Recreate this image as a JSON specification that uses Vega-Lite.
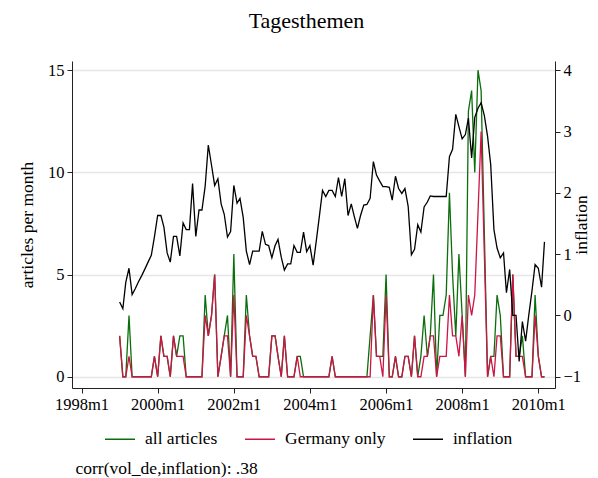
{
  "$schema": "https://vega.github.io/schema/vega-lite/v6.json",
  "width": 483,
  "height": 327,
  "autosize": {"type": "none"},
  "padding": {"left": 72, "top": 61, "right": 43, "bottom": 90},
  "background": "white",
  "config": {
    "font": "Liberation Serif",
    "view": {"stroke": null},
    "axis": {
      "labelFont": "Liberation Serif",
      "titleFont": "Liberation Serif",
      "labelFontSize": 16.5,
      "titleFontSize": 17.5,
      "titleFontWeight": "normal",
      "labelColor": "black",
      "titleColor": "black",
      "domainColor": "#222222",
      "tickColor": "#222222",
      "tickSize": 5,
      "labelPadding": 3
    },
    "legend": {
      "labelFont": "Liberation Serif",
      "labelFontSize": 17.5,
      "labelColor": "black"
    }
  },
  "title": {
    "text": "Tagesthemen",
    "font": "Liberation Serif",
    "fontSize": 22,
    "fontWeight": "normal",
    "color": "black",
    "anchor": "middle",
    "offset": 28,
    "dx": -7
  },
  "data": {
    "values": [
      {"date": "1999-01-01", "all": 2, "de": 2, "infl": 0.22},
      {"date": "1999-02-01", "all": 0, "de": 0, "infl": 0.11},
      {"date": "1999-03-01", "all": 0, "de": 0, "infl": 0.54},
      {"date": "1999-04-01", "all": 3, "de": 1, "infl": 0.77},
      {"date": "1999-05-01", "all": 0, "de": 0, "infl": 0.34},
      {"date": "1999-06-01", "all": 0, "de": 0, "infl": 0.44},
      {"date": "1999-07-01", "all": 0, "de": 0, "infl": 0.55},
      {"date": "1999-08-01", "all": 0, "de": 0, "infl": 0.65},
      {"date": "1999-09-01", "all": 0, "de": 0, "infl": 0.76},
      {"date": "1999-10-01", "all": 0, "de": 0, "infl": 0.87},
      {"date": "1999-11-01", "all": 0, "de": 0, "infl": 0.98},
      {"date": "1999-12-01", "all": 1, "de": 1, "infl": 1.28},
      {"date": "2000-01-01", "all": 0, "de": 0, "infl": 1.63},
      {"date": "2000-02-01", "all": 2, "de": 2, "infl": 1.63},
      {"date": "2000-03-01", "all": 1, "de": 1, "infl": 1.44},
      {"date": "2000-04-01", "all": 1, "de": 1, "infl": 1.02},
      {"date": "2000-05-01", "all": 0, "de": 0, "infl": 0.87},
      {"date": "2000-06-01", "all": 2, "de": 2, "infl": 1.29},
      {"date": "2000-07-01", "all": 1, "de": 1, "infl": 1.29},
      {"date": "2000-08-01", "all": 2, "de": 1, "infl": 0.97},
      {"date": "2000-09-01", "all": 2, "de": 1, "infl": 1.51},
      {"date": "2000-10-01", "all": 0, "de": 0, "infl": 1.40},
      {"date": "2000-11-01", "all": 0, "de": 0, "infl": 1.40},
      {"date": "2000-12-01", "all": 0, "de": 0, "infl": 2.15},
      {"date": "2001-01-01", "all": 0, "de": 0, "infl": 1.29},
      {"date": "2001-02-01", "all": 0, "de": 0, "infl": 1.72},
      {"date": "2001-03-01", "all": 0, "de": 0, "infl": 1.72},
      {"date": "2001-04-01", "all": 4, "de": 3, "infl": 2.11},
      {"date": "2001-05-01", "all": 2, "de": 2, "infl": 2.78},
      {"date": "2001-06-01", "all": 3, "de": 3, "infl": 2.45},
      {"date": "2001-07-01", "all": 5, "de": 5, "infl": 2.12},
      {"date": "2001-08-01", "all": 0, "de": 0, "infl": 2.23},
      {"date": "2001-09-01", "all": 1, "de": 1, "infl": 1.82},
      {"date": "2001-10-01", "all": 2, "de": 2, "infl": 1.65},
      {"date": "2001-11-01", "all": 3, "de": 2, "infl": 1.28},
      {"date": "2001-12-01", "all": 0, "de": 0, "infl": 1.37},
      {"date": "2002-01-01", "all": 6, "de": 4, "infl": 2.12},
      {"date": "2002-02-01", "all": 0, "de": 0, "infl": 1.83},
      {"date": "2002-03-01", "all": 0, "de": 0, "infl": 1.91},
      {"date": "2002-04-01", "all": 0, "de": 0, "infl": 1.60},
      {"date": "2002-05-01", "all": 4, "de": 3, "infl": 1.05},
      {"date": "2002-06-01", "all": 2, "de": 2, "infl": 0.83},
      {"date": "2002-07-01", "all": 1, "de": 1, "infl": 1.05},
      {"date": "2002-08-01", "all": 1, "de": 1, "infl": 1.05},
      {"date": "2002-09-01", "all": 0, "de": 0, "infl": 1.05},
      {"date": "2002-10-01", "all": 0, "de": 0, "infl": 1.37},
      {"date": "2002-11-01", "all": 0, "de": 0, "infl": 1.16},
      {"date": "2002-12-01", "all": 0, "de": 0, "infl": 1.14},
      {"date": "2003-01-01", "all": 2, "de": 2, "infl": 0.94},
      {"date": "2003-02-01", "all": 2, "de": 2, "infl": 1.14},
      {"date": "2003-03-01", "all": 1, "de": 1, "infl": 1.24},
      {"date": "2003-04-01", "all": 0, "de": 0, "infl": 0.95},
      {"date": "2003-05-01", "all": 2, "de": 2, "infl": 0.74},
      {"date": "2003-06-01", "all": 0, "de": 0, "infl": 0.84},
      {"date": "2003-07-01", "all": 0, "de": 0, "infl": 0.84},
      {"date": "2003-08-01", "all": 0, "de": 0, "infl": 1.14},
      {"date": "2003-09-01", "all": 1, "de": 1, "infl": 1.03},
      {"date": "2003-10-01", "all": 1, "de": 0, "infl": 1.03},
      {"date": "2003-11-01", "all": 0, "de": 0, "infl": 1.36},
      {"date": "2003-12-01", "all": 0, "de": 0, "infl": 1.04},
      {"date": "2004-01-01", "all": 0, "de": 0, "infl": 1.14},
      {"date": "2004-02-01", "all": 0, "de": 0, "infl": 0.82},
      {"date": "2004-03-01", "all": 0, "de": 0, "infl": 1.20},
      {"date": "2004-04-01", "all": 0, "de": 0, "infl": 1.62},
      {"date": "2004-05-01", "all": 0, "de": 0, "infl": 2.04},
      {"date": "2004-06-01", "all": 0, "de": 0, "infl": 1.94},
      {"date": "2004-07-01", "all": 0, "de": 0, "infl": 2.04},
      {"date": "2004-08-01", "all": 1, "de": 1, "infl": 2.04},
      {"date": "2004-09-01", "all": 0, "de": 0, "infl": 1.94},
      {"date": "2004-10-01", "all": 0, "de": 0, "infl": 2.25},
      {"date": "2004-11-01", "all": 0, "de": 0, "infl": 1.94},
      {"date": "2004-12-01", "all": 0, "de": 0, "infl": 2.23},
      {"date": "2005-01-01", "all": 0, "de": 0, "infl": 1.63},
      {"date": "2005-02-01", "all": 0, "de": 0, "infl": 1.82},
      {"date": "2005-03-01", "all": 0, "de": 0, "infl": 1.62},
      {"date": "2005-04-01", "all": 0, "de": 0, "infl": 1.42},
      {"date": "2005-05-01", "all": 0, "de": 0, "infl": 1.63},
      {"date": "2005-06-01", "all": 0, "de": 0, "infl": 1.80},
      {"date": "2005-07-01", "all": 0, "de": 0, "infl": 1.81},
      {"date": "2005-08-01", "all": 2, "de": 0, "infl": 1.91},
      {"date": "2005-09-01", "all": 4, "de": 4, "infl": 2.51},
      {"date": "2005-10-01", "all": 1, "de": 1, "infl": 2.29},
      {"date": "2005-11-01", "all": 1, "de": 1, "infl": 2.19},
      {"date": "2005-12-01", "all": 1, "de": 0, "infl": 2.10},
      {"date": "2006-01-01", "all": 5, "de": 4, "infl": 2.10},
      {"date": "2006-02-01", "all": 0, "de": 0, "infl": 2.09},
      {"date": "2006-03-01", "all": 0, "de": 0, "infl": 1.88},
      {"date": "2006-04-01", "all": 1, "de": 1, "infl": 2.27},
      {"date": "2006-05-01", "all": 0, "de": 0, "infl": 2.07},
      {"date": "2006-06-01", "all": 0, "de": 0, "infl": 1.99},
      {"date": "2006-07-01", "all": 1, "de": 1, "infl": 2.07},
      {"date": "2006-08-01", "all": 1, "de": 1, "infl": 1.78},
      {"date": "2006-09-01", "all": 0, "de": 0, "infl": 0.99},
      {"date": "2006-10-01", "all": 2, "de": 2, "infl": 1.08},
      {"date": "2006-11-01", "all": 0, "de": 0, "infl": 1.48},
      {"date": "2006-12-01", "all": 1, "de": 0, "infl": 1.36},
      {"date": "2007-01-01", "all": 3, "de": 1, "infl": 1.77},
      {"date": "2007-02-01", "all": 1, "de": 1, "infl": 1.85},
      {"date": "2007-03-01", "all": 2, "de": 2, "infl": 1.95},
      {"date": "2007-04-01", "all": 5, "de": 2, "infl": 1.94},
      {"date": "2007-05-01", "all": 0, "de": 0, "infl": 1.94},
      {"date": "2007-06-01", "all": 3, "de": 1, "infl": 1.94},
      {"date": "2007-07-01", "all": 3, "de": 1, "infl": 1.94},
      {"date": "2007-08-01", "all": 4, "de": 1, "infl": 1.94},
      {"date": "2007-09-01", "all": 9, "de": 4, "infl": 2.59},
      {"date": "2007-10-01", "all": 5, "de": 2, "infl": 2.71},
      {"date": "2007-11-01", "all": 2, "de": 2, "infl": 3.28},
      {"date": "2007-12-01", "all": 6, "de": 1, "infl": 3.08},
      {"date": "2008-01-01", "all": 3, "de": 3, "infl": 2.88},
      {"date": "2008-02-01", "all": 0, "de": 0, "infl": 2.95},
      {"date": "2008-03-01", "all": 13, "de": 4, "infl": 3.22},
      {"date": "2008-04-01", "all": 14, "de": 3, "infl": 2.57},
      {"date": "2008-05-01", "all": 10, "de": 4, "infl": 3.23},
      {"date": "2008-06-01", "all": 15, "de": 8, "infl": 3.38},
      {"date": "2008-07-01", "all": 14, "de": 12, "infl": 3.47},
      {"date": "2008-08-01", "all": 7, "de": 6, "infl": 3.26},
      {"date": "2008-09-01", "all": 0, "de": 0, "infl": 2.92},
      {"date": "2008-10-01", "all": 1, "de": 1, "infl": 2.46},
      {"date": "2008-11-01", "all": 1, "de": 0, "infl": 1.40},
      {"date": "2008-12-01", "all": 4, "de": 2, "infl": 1.10},
      {"date": "2009-01-01", "all": 3, "de": 2, "infl": 0.94},
      {"date": "2009-02-01", "all": 0, "de": 0, "infl": 1.02},
      {"date": "2009-03-01", "all": 0, "de": 0, "infl": 0.37},
      {"date": "2009-04-01", "all": 0, "de": 0, "infl": 0.75},
      {"date": "2009-05-01", "all": 5, "de": 5, "infl": 0.00},
      {"date": "2009-06-01", "all": 1, "de": 1, "infl": 0.00},
      {"date": "2009-07-01", "all": 1, "de": 1, "infl": -0.75},
      {"date": "2009-08-01", "all": 2, "de": 1, "infl": -0.10},
      {"date": "2009-09-01", "all": 0, "de": 0, "infl": -0.42},
      {"date": "2009-10-01", "all": 0, "de": 0, "infl": 0.00},
      {"date": "2009-11-01", "all": 0, "de": 0, "infl": 0.40},
      {"date": "2009-12-01", "all": 4, "de": 3, "infl": 0.83},
      {"date": "2010-01-01", "all": 1, "de": 1, "infl": 0.77},
      {"date": "2010-02-01", "all": 0, "de": 0, "infl": 0.46},
      {"date": "2010-03-01", "all": 0, "de": 0, "infl": 1.20}
    ]
  },
  "encoding": {
    "x": {
      "field": "date",
      "type": "temporal",
      "scale": {
        "type": "utc",
        "domain": [
          {"year": 1997, "month": 10, "date": 1, "utc": true},
          {"year": 2010, "month": 6, "date": 10, "utc": true}
        ]
      },
      "axis": {
        "values": [
          {"year": 1998, "month": 1, "date": 1, "utc": true},
          {"year": 2000, "month": 1, "date": 1, "utc": true},
          {"year": 2002, "month": 1, "date": 1, "utc": true},
          {"year": 2004, "month": 1, "date": 1, "utc": true},
          {"year": 2006, "month": 1, "date": 1, "utc": true},
          {"year": 2008, "month": 1, "date": 1, "utc": true},
          {"year": 2010, "month": 1, "date": 1, "utc": true}
        ],
        "labelExpr": "utcFormat(datum.value, '%Y') + 'm' + (utcmonth(datum.value) + 1)",
        "grid": false,
        "title": "corr(vol_de,inflation): .38",
        "titleAnchor": "start",
        "titleAlign": "left",
        "titleBaseline": "middle",
        "titleX": 3,
        "titleY": 80
      }
    }
  },
  "layer": [
    {
      "layer": [
        {
          "mark": {"type": "line", "strokeWidth": 1.3, "interpolate": "linear"},
          "encoding": {
            "y": {
              "field": "all",
              "type": "quantitative",
              "title": "articles per month",
              "scale": {"domain": [-0.55, 15.45], "nice": false, "zero": false},
              "axis": {
                "orient": "left",
                "values": [0, 5, 10, 15],
                "grid": true,
                "gridColor": "#e6e6e6",
                "gridWidth": 1.4,
                "titlePadding": 11
              }
            },
            "color": {
              "datum": "all articles",
              "type": "nominal",
              "scale": {
                "domain": ["all articles", "Germany only", "inflation"],
                "range": ["#0b6e0b", "#cc1447", "#000000"]
              },
              "legend": {
                "title": null,
                "orient": "none",
                "direction": "horizontal",
                "legendX": 32,
                "legendY": 362,
                "symbolType": "stroke",
                "symbolSize": 900,
                "symbolStrokeWidth": 1.5,
                "labelOffset": 9,
                "columnPadding": 24
              }
            }
          }
        },
        {
          "mark": {"type": "line", "strokeWidth": 1.3, "interpolate": "linear"},
          "encoding": {
            "y": {
              "field": "de",
              "type": "quantitative",
              "title": "articles per month"
            },
            "color": {"datum": "Germany only", "type": "nominal"}
          }
        }
      ]
    },
    {
      "mark": {"type": "line", "strokeWidth": 1.3, "interpolate": "linear"},
      "encoding": {
        "y": {
          "field": "infl",
          "type": "quantitative",
          "title": "inflation",
          "scale": {"domain": [-1.1833, 4.15], "nice": false, "zero": false},
          "axis": {
            "orient": "right",
            "values": [-1, 0, 1, 2, 3, 4],
            "grid": false,
            "titleAngle": 270,
            "titlePadding": 10
          }
        },
        "color": {"datum": "inflation", "type": "nominal"}
      }
    }
  ],
  "resolve": {"scale": {"y": "independent"}}
}
